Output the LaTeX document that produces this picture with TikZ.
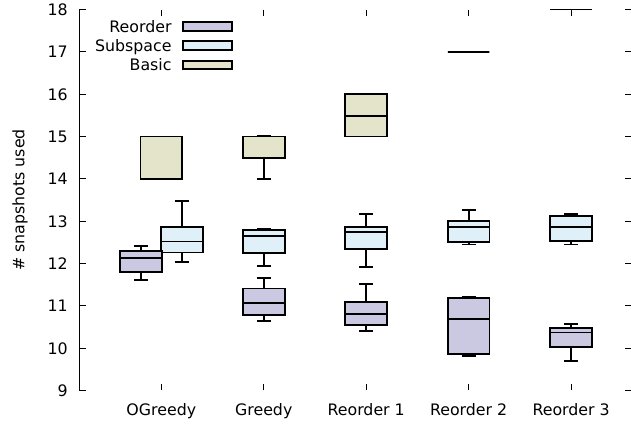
\documentclass[tikz,border=0pt]{standalone}
\usepackage{fontspec}
\setmainfont{DejaVu Sans}
\definecolor{reordfill}{HTML}{CBC8E1}
\definecolor{subfill}{HTML}{E0F0F8}
\definecolor{basicfill}{HTML}{E4E4CA}
% box plot: centre x, lower whisker, q1, median, q3, upper whisker, fill
\newcommand\bxplot[7]{%
  \draw[bxline] (#1,#2) -- (#1,#3) (#1,#5) -- (#1,#6);
  \draw[bxline] ({#1-7},#2) -- ({#1+7},#2) ({#1-7},#6) -- ({#1+7},#6);
  \draw[bxline,fill=#7] ({#1-20.8},#3) rectangle ({#1+20.8},#5);
  \draw[bxline] ({#1-20.8},#4) -- ({#1+20.8},#4);
}
\begin{document}
\begin{tikzpicture}[x=1pt,y=42.33pt,
  font=\fontsize{15.8}{18}\selectfont,
  bxline/.style={line width=1.9pt,line join=miter},
  axisline/.style={line width=0.8pt},
  ticklab/.style={anchor=base east,inner sep=0pt},
  catlab/.style={anchor=base,inner sep=0pt},
  legtext/.style={anchor=base east,inner sep=0pt}]
\useasboundingbox (0,8.2086) rectangle (631,18.225);

% left border and y ticks (mirrored on the right)
\draw[axisline] (79.3,9) -- (79.3,18);
\foreach \v in {9,...,18}{
  \draw[axisline] (79.3,\v) -- (86,\v);
  \draw[axisline] (625,\v) -- (631,\v);
  \node[ticklab] (yl\v) at (68,\v-0.142) {\v};
}

% x ticks (bottom and top) and category labels
\foreach \x/\lab [count=\i] in {161.3/OGreedy,263.75/Greedy,366.2/Reorder 1,468.65/Reorder 2,571.1/Reorder 3}{
  \draw[axisline] (\x,9) -- (\x,9.142);
  \draw[axisline] (\x,18) -- (\x,17.858);
  \node[catlab] (xl\i) at (\x,8.398) {\lab};
}

% y axis title
\node[rotate=90,inner sep=0pt] (ytitle) at (20,13.5) {\# snapshots used};

% OGreedy
\bxplot{161.3}{14}{14}{15}{15}{15}{basicfill}
\bxplot{181.9}{12.04}{12.26}{12.52}{12.86}{13.47}{subfill}
\bxplot{141}{11.61}{11.79}{12.14}{12.30}{12.41}{reordfill}
% Greedy
\bxplot{263.75}{14.0}{14.49}{15.0}{15.0}{15.01}{basicfill}
\bxplot{263.75}{11.95}{12.25}{12.66}{12.79}{12.82}{subfill}
\bxplot{263.75}{10.65}{10.78}{11.06}{11.41}{11.66}{reordfill}
% Reorder 1
\bxplot{366.2}{15}{15}{15.48}{16}{16}{basicfill}
\bxplot{366.2}{11.91}{12.35}{12.74}{12.86}{13.17}{subfill}
\bxplot{366.2}{10.41}{10.55}{10.80}{11.09}{11.51}{reordfill}
% Reorder 2
\bxplot{468.65}{17}{17}{17}{17}{17}{basicfill}
\bxplot{468.65}{12.45}{12.50}{12.86}{13.0}{13.27}{subfill}
\bxplot{468.65}{9.81}{9.87}{10.68}{11.18}{11.22}{reordfill}
% Reorder 3
\bxplot{571.1}{18}{18}{18}{18}{18}{basicfill}
\bxplot{571.1}{12.45}{12.54}{12.86}{13.13}{13.16}{subfill}
\bxplot{571.1}{9.70}{10.03}{10.37}{10.47}{10.58}{reordfill}

% legend
\node[legtext] (lgr) at (171.7,17.453) {Reorder};
\node[legtext] (lgs) at (171.7,17.004) {Subspace};
\node[legtext] (lgb) at (171.7,16.548) {Basic};
\draw[bxline,fill=reordfill] (182.7,17.497) rectangle (232.3,17.701);
\draw[bxline,fill=subfill] (182.7,17.048) rectangle (232.3,17.252);
\draw[bxline,fill=basicfill] (182.7,16.588) rectangle (232.3,16.792);
\end{tikzpicture}
\end{document}
